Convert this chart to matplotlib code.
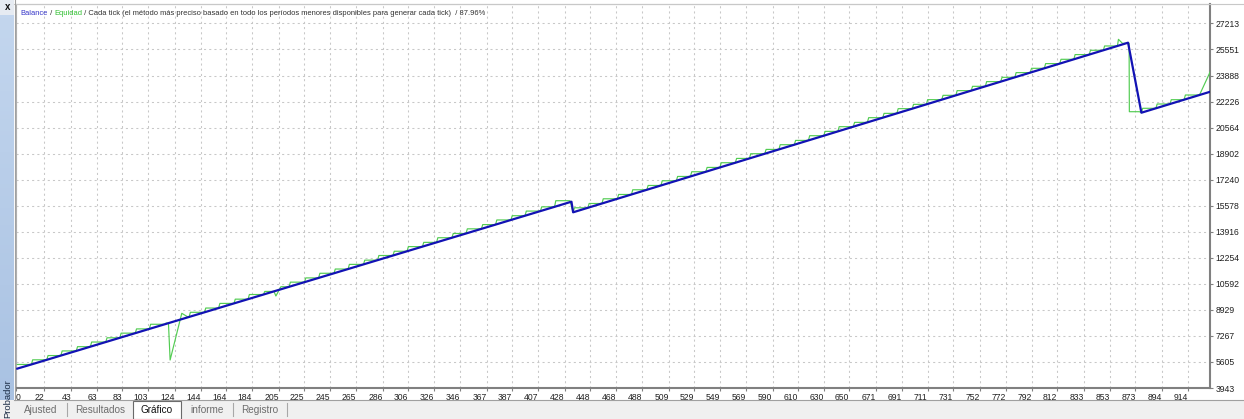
import matplotlib
matplotlib.use("Agg")
import numpy as np
import matplotlib.pyplot as plt
from matplotlib.patches import Rectangle
from matplotlib.lines import Line2D

# ---- data ----
# balance after each closed trade (trade number, balance)
bal_x = [1, 12, 24, 35, 47, 58, 70, 81, 93, 104,
         116, 119, 135, 147, 158, 170, 181, 193, 201, 213,
         225, 236, 248, 259, 271, 282, 294, 305, 317, 328,
         340, 351, 363, 374, 386, 397, 409, 420, 433.2, 434.5,
         446, 457, 469, 480, 492, 503, 515, 526, 538, 549,
         561, 572, 584, 595, 607, 618, 630, 641, 653, 664,
         676, 687, 699, 710, 722, 733, 745, 756, 768, 779,
         791, 802, 814, 825, 837, 848, 859, 867.3, 877.7, 889,
         900, 911, 923, 933.2]
bal_y = [5180, 5446, 5742, 6014, 6309, 6581, 6877, 7148, 7444, 7715,
         8011, 8085, 8479, 8775, 9047, 9343, 9614, 9910, 10107, 10403,
         10699, 10970, 11266, 11537, 11833, 12104, 12400, 12672, 12968, 13239,
         13535, 13806, 14102, 14373, 14669, 14940, 15236, 15507, 15835, 15158,
         15446, 15721, 16021, 16296, 16596, 16871, 17171, 17446, 17746, 18022,
         18322, 18597, 18897, 19172, 19472, 19747, 20047, 20323, 20623, 20898,
         21198, 21473, 21773, 22048, 22348, 22624, 22924, 23199, 23499, 23774,
         24074, 24349, 24649, 24924, 25225, 25500, 25775, 25984, 21515, 21797,
         22071, 22346, 22645, 22900]

# equity curve corners
eq_x = [1, 12, 13, 24, 25, 35, 36, 47, 48, 58, 59, 70, 71, 81, 82, 93, 94, 104,
        105, 116, 117, 118.9, 120.2, 129.3, 133.7, 135, 136, 147, 148, 158,
        159, 170, 171, 181, 182, 193, 194, 201.2, 202.7, 206.6, 213,
        214, 225, 226, 236, 237, 248, 249, 259, 260, 271, 272, 282, 283, 294,
        295, 305, 306, 317, 318, 328, 329, 340, 341, 351, 352, 363, 364, 374,
        375, 386, 387, 397, 398, 409, 410, 420, 421, 432, 434.5,
        435.5, 446, 447, 457, 458, 469, 470, 480, 481, 492, 493, 503, 504, 515,
        516, 526, 527, 538, 539, 549, 550, 561, 562, 572, 573, 584, 585, 595,
        596, 607, 608, 618, 619, 630, 631, 641, 642, 653, 654, 664, 665, 676,
        677, 687, 688, 699, 700, 710, 711, 722, 723, 733, 734, 745, 746, 756,
        757, 768, 769, 779, 780, 791, 792, 802, 803, 814, 815, 825, 826, 837,
        838, 848, 849, 859, 859.8, 862.9, 868.1, 868.3, 876.2, 877.7,
        878.7, 889, 890, 900, 901, 911, 912, 923, 933.2]
eq_y = [5446, 5446, 5742, 5742, 6014, 6014, 6309, 6309, 6581, 6581, 6877, 6877,
        7148, 7148, 7444, 7444, 7715, 7715,
        8011, 8011, 8085, 8085, 5730, 8711, 8494, 8479, 8775, 8775, 9047, 9047,
        9343, 9343, 9614, 9614, 9910, 9910, 10107, 10107, 9815, 10409, 10403,
        10699, 10699, 10970, 10970, 11266, 11266, 11537, 11537, 11833, 11833,
        12104, 12104, 12400, 12400,
        12672, 12672, 12968, 12968, 13239, 13239, 13535, 13535, 13806, 13806,
        14102, 14102, 14373, 14373,
        14669, 14669, 14940, 14940, 15236, 15236, 15507, 15507, 15898, 15898, 15158,
        15446, 15446, 15721, 15721, 16021, 16021, 16296, 16296, 16596, 16596,
        16871, 16871, 17171, 17171,
        17446, 17446, 17746, 17746, 18022, 18022, 18322, 18322, 18597, 18597,
        18897, 18897, 19172, 19172,
        19472, 19472, 19747, 19747, 20047, 20047, 20323, 20323, 20623, 20623,
        20898, 20898, 21198, 21198,
        21473, 21473, 21773, 21773, 22048, 22048, 22348, 22348, 22624, 22624,
        22924, 22924, 23199, 23199,
        23499, 23499, 23774, 23774, 24074, 24074, 24349, 24349, 24649, 24649,
        24924, 24924, 25225, 25225,
        25500, 25500, 25775, 25775, 26200, 25945, 25945, 21579, 21579, 21515,
        21797, 21797, 22071, 22071, 22346, 22346, 22645, 22645, 24452]

y_ticks = [3943, 5605, 7267, 8929, 10592, 12254, 13916, 15578, 17240,
           18902, 20564, 22226, 23888, 25551, 27213]
x_ticks = [0, 22, 43, 63, 83, 103, 124, 144, 164, 184, 205, 225, 245, 265,
           286, 306, 326, 346, 367, 387, 407, 428, 448, 468, 488, 509, 529,
           549, 569, 590, 610, 630, 650, 671, 691, 711, 731, 752, 772, 792,
           812, 833, 853, 873, 894, 914]

title_parts = ["Balance", " / ", "Equidad",
               " / Cada tick (el método más preciso basado en todo los períodos "
               "menores disponibles para generar cada tick)  / 87.96%"]
title_colors = ["#3434c8", "#303030", "#2fbf2f", "#303030"]
tabs = ["Ajusted", "Resultados", "Gráfico", "informe", "Registro"]
tab_centers = [41, 100, 157, 207, 260]

plt.rcParams['font.family'] = ['Liberation Sans', 'DejaVu Sans']

W, H = 1244, 419


def fx(px):
    return px / W


def fy(py):
    return 1 - py / H


fig = plt.figure(figsize=(W / 100, H / 100), dpi=100)
fig.patch.set_facecolor('white')

# bottom tab strip
fig.add_artist(Rectangle((0, 0), 1, 19 / H, transform=fig.transFigure,
                         facecolor='#f0f0f0', edgecolor='none'))
fig.add_artist(Line2D([fx(14), 1], [fy(400), fy(400)], transform=fig.transFigure,
                      color='#a0a0a0', lw=0.8))
fig.add_artist(Line2D([fx(14), 1], [fy(4), fy(4)], transform=fig.transFigure,
                      color='#c8c8c8', lw=0.8))

# left "Probador" bar
side = fig.add_axes([0, 0, fx(14), 1 - 15 / H])
grad = np.linspace(0, 1, 100).reshape(-1, 1)
side.imshow(grad, aspect='auto', cmap=matplotlib.colors.LinearSegmentedColormap.from_list(
    'side', ['#c3d6ee', '#a8c1e2']), extent=[0, 1, 0, 1])
side.axis('off')
fig.add_artist(Rectangle((0, fy(15)), fx(14), 15 / H, transform=fig.transFigure,
                         facecolor='#e6ebf2', edgecolor='none'))
fig.text(fx(8), fy(7), 'x', fontsize=7, fontweight='bold', ha='center', va='center',
         color='#101010')
fig.text(fx(8), fy(399), 'Probador', rotation=90, fontsize=6.8, ha='center',
         va='center', color='#1b2c45')
fig.add_artist(Line2D([fx(14.5), fx(14.5)], [fy(0), fy(400)], transform=fig.transFigure,
                      color='#a0a0a0', lw=0.8))

# tabs
fig.add_artist(Rectangle((fx(133), 0), fx(181) - fx(133), fy(401), transform=fig.transFigure,
                         facecolor='white', edgecolor='#6a6a6a', lw=0.8))
for sx in [67, 233, 287]:
    fig.add_artist(Line2D([fx(sx), fx(sx)], [fy(403), fy(416)], transform=fig.transFigure,
                          color='#a8a8a8', lw=0.8))
for name, cx in zip(tabs, tab_centers):
    fig.text(fx(cx), fy(409.5), name, fontsize=7.2, ha='center', va='center',
             color='#111111' if name == 'Gráfico' else '#6d6d6d')

# main chart
ax = fig.add_axes([fx(16), fy(388), fx(1210) - fx(16), (388 - 4) / H])
ax.plot(eq_x, eq_y, color='#52cc52', lw=0.85, zorder=3)
ax.plot(bal_x, bal_y, color='#1212b4', lw=1.6, zorder=4)

ax.set_xlim(0.4, 931.2)
ax.set_ylim(3943, 28454)
ax.set_yticks(y_ticks)
ax.set_yticklabels([str(v) for v in y_ticks])
ax.set_xticks(x_ticks)
ax.set_xticklabels([str(v) for v in x_ticks])
ax.yaxis.tick_right()
ax.tick_params(axis='both', labelsize=6.2, colors='#808080', labelcolor='#202020',
               length=2, width=0.8)
ax.tick_params(axis='y', pad=2)
ax.tick_params(axis='x', pad=1.5)
for i, lbl in enumerate(ax.get_xticklabels()):
    lbl.set_ha('left' if i == 0 else 'right')

ax.grid(True, color='#c8c8c8', linestyle=(0, (2, 3)), linewidth=0.75)
ax.set_axisbelow(True)
for s in ['left', 'top']:
    ax.spines[s].set_color('#b0b0b0')
    ax.spines[s].set_linewidth(0.8)
for s in ['right', 'bottom']:
    ax.spines[s].set_color('#808080')
    ax.spines[s].set_linewidth(1.5)

# coloured title pieces placed one after another
fig.canvas.draw()
r = fig.canvas.get_renderer()
x = fx(20.7)
for s, c in zip(title_parts, title_colors):
    t = fig.text(x, fy(15.3), s, color=c, fontsize=5.4, va='baseline', ha='left')
    bb = t.get_window_extent(renderer=r)
    x = bb.x1 / fig.bbox.width

fig.savefig('out.png', dpi=100)
